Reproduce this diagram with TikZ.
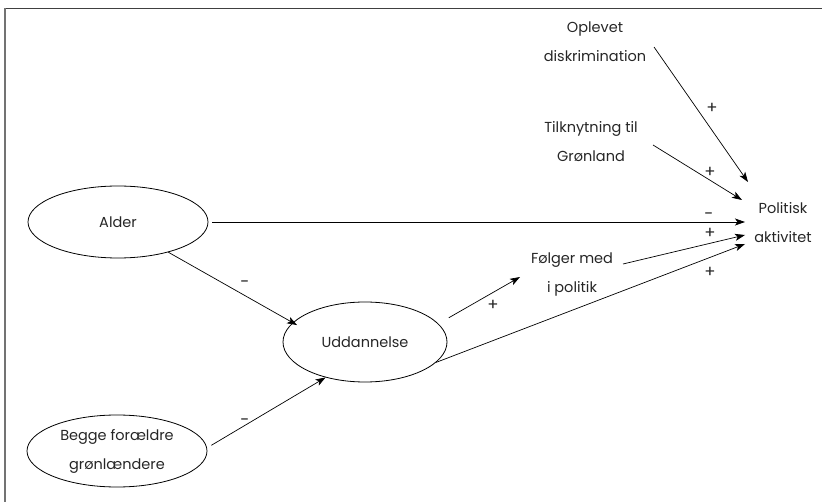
\documentclass[tikz,border=0pt]{standalone}
\usepackage{fontspec}
\setmainfont{Poppins}
\usetikzlibrary{arrows.meta,shapes.geometric,calc}
\begin{document}
\begin{tikzpicture}[x=1pt,y=-1pt,
  every node/.style={font=\fontsize{14.5}{29}\selectfont, text=black!85},
  ell/.style={draw, ellipse, line width=0.8pt, inner sep=0pt, align=center},
  txt/.style={align=center, inner sep=2pt},
  lbl/.style={inner sep=0pt, font=\fontsize{16.5}{18}\selectfont},
  arr/.style={-{Stealth[length=10pt,width=7pt,inset=2.5pt]}, line width=0.7pt}]
\useasboundingbox (0,0) rectangle (822,502);
% frame (top and left edges)
\draw[line width=1.8pt, black!75] (4.5,8.5) -- (822,8.5);
\draw[line width=1.5pt, black!55] (5,8.5) -- (5,502);
% nodes
\node[ell, minimum width=180pt, minimum height=72pt] (alder) at (118,222) {Alder};
\node[ell, minimum width=164pt, minimum height=80pt] (udd) at (365,342) {Uddannelse};
\node[ell, minimum width=180pt, minimum height=72pt] (begge) at (117,451) {Begge forældre\\grønlændere};
\node[txt] (polit) at (783,223) {Politisk\\aktivitet};
\node[txt] (folger) at (572,275) {Følger med\\i politik};
\node[txt] (oplev) at (595,42) {Oplevet\\diskrimination};
\node[txt] (tilk) at (591,142) {Tilknytning til\\Grønland};
% connectors
\draw[arr] ($(oplev.center)+(59,5)$) -- ($(polit.center)+(-35,-41)$);
\draw[arr] ($(tilk.center)+(62,3)$) -- ($(polit.center)+(-41,-23)$);
\draw[arr, shorten <=4pt] (alder.east) -- ($(polit.center)+(-38,-1)$);
\draw[arr] ($(folger.center)+(51,-11)$) -- ($(polit.center)+(-38,12)$);
\draw[arr] (udd.-16) -- ($(polit.center)+(-38,21)$);
\draw[arr, shorten <=12pt] (udd.14) -- ($(folger.center)+(-52,2)$);
\draw[arr, shorten >=-5pt] (alder.-31) -- (udd.165);
\draw[arr, shorten <=5pt] (begge.2) -- (udd.222);
% sign labels
\node[lbl] (s1) at (712,108) {+};
\node[lbl] (s2) at (710,172) {+};
\node[lbl] (s3) at (709,216) {-};
\node[lbl] (s4) at (710,233) {+};
\node[lbl] (s5) at (710,272) {+};
\node[lbl] (s6) at (493,305) {+};
\node[lbl] (s7) at (245,284) {-};
\node[lbl] (s8) at (245,422) {-};
\end{tikzpicture}
\end{document}
